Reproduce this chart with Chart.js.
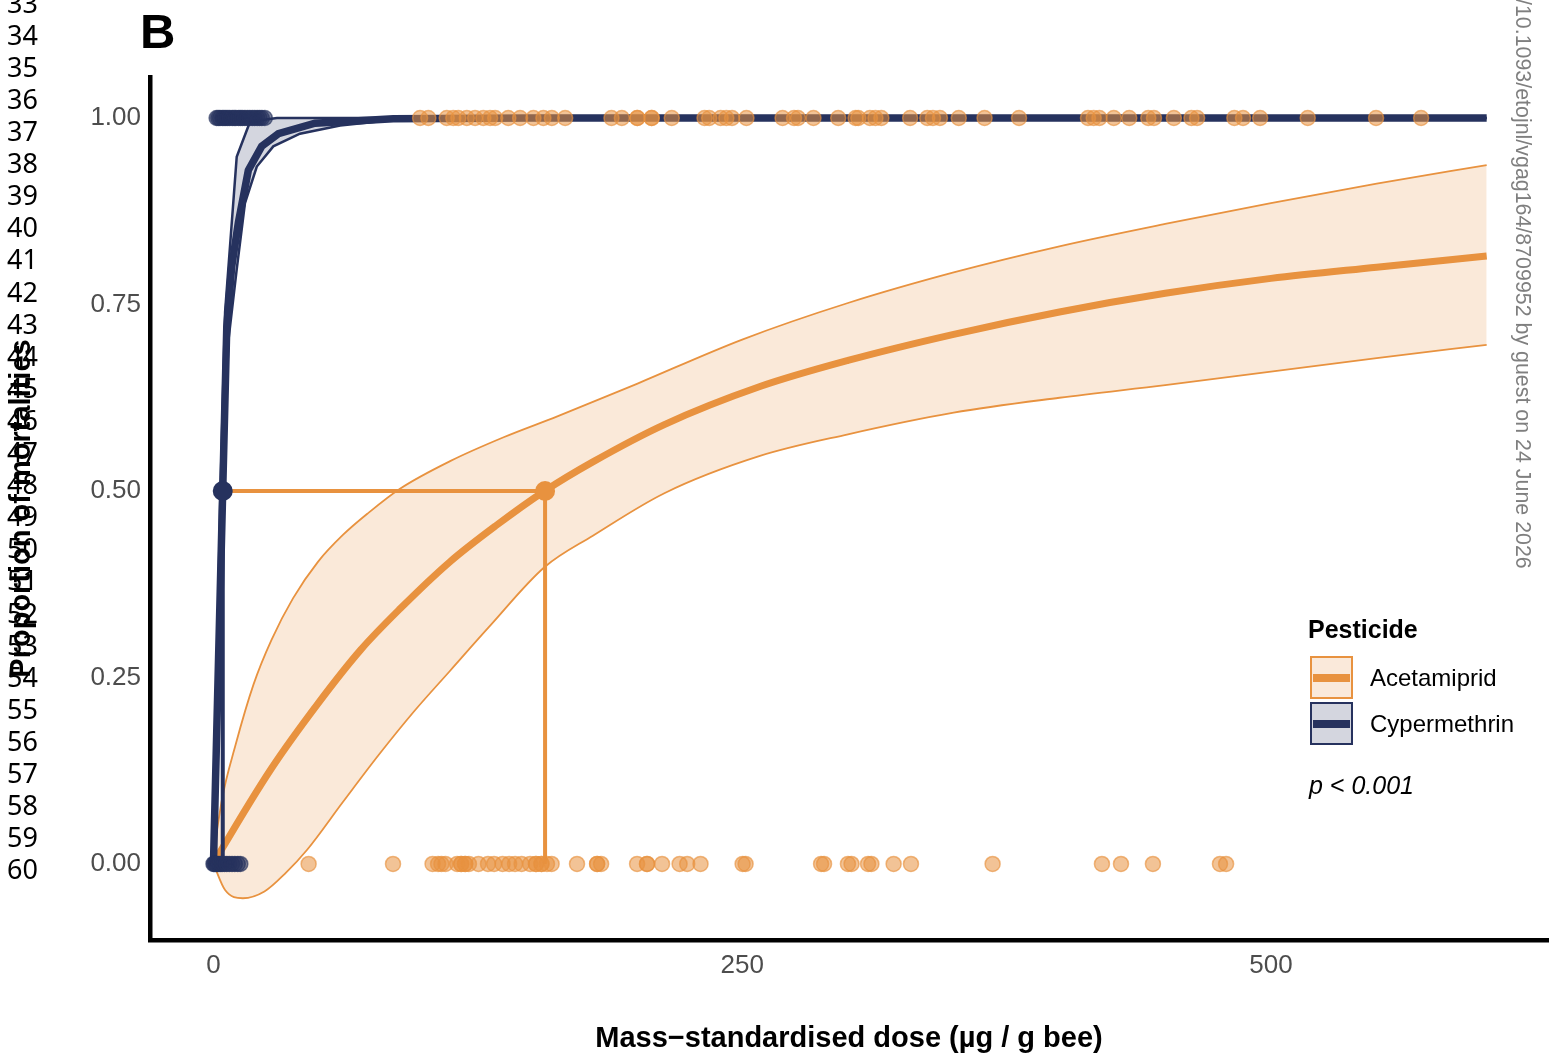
<!DOCTYPE html>
<html>
<head>
<meta charset="utf-8">
<script src="https://cdn.jsdelivr.net/npm/chart.js@4.4.1/dist/chart.umd.min.js"></script>
<style>
html,body{margin:0;padding:0;background:#fff;overflow:hidden}
#wrap{position:relative;width:1551px;height:1056px;background:#fff}
#c{position:absolute;left:0;top:0}
.ov{position:absolute;white-space:nowrap}
.ln{left:7px;font-family:'Noto Sans',sans-serif;font-size:27px;line-height:27px;color:#000}
.lt{font-family:'Liberation Sans',Arial,sans-serif;color:#000}
.key{position:absolute;left:1310px;width:39px;height:39px;border:2.5px solid}
.key i{position:absolute;left:1px;right:1px;top:16px;height:7.5px}
</style>
</head>
<body>
<div id="wrap">
<canvas id="c" width="1551" height="1056"></canvas>
</div>
<script>
// ---------- data ----------
const xTicks = [0, 250, 500];
const xTickLabels = ['0', '250', '500'];
const yTicks = [0, 0.25, 0.5, 0.75, 1];
const yTickLabels = ['0.00', '0.25', '0.50', '0.75', '1.00'];

// Acetamiprid fitted curve and confidence band
const acetFitDose = [0, 4, 27.4, 49.4, 69.6, 88.2, 111.8, 133.8, 156.6, 179.4, 213.2, 258.4, 300, 350, 400, 450, 500, 550, 602];
const acetFitP    = [0, 0.02, 0.128, 0.215, 0.287, 0.342, 0.405, 0.454, 0.500, 0.539, 0.589, 0.640, 0.675, 0.710, 0.740, 0.765, 0.785, 0.800, 0.815];
const acetUpDose  = [0, 0.4, 3.8, 10.5, 19.0, 27.4, 37.6, 49.4, 61.2, 73.0, 88.2, 111.9, 137.2, 162.6, 198.8, 250, 300, 350, 400, 450, 500, 550, 602];
const acetUpP     = [0, 0.015, 0.083, 0.160, 0.241, 0.300, 0.356, 0.405, 0.441, 0.470, 0.503, 0.540, 0.572, 0.600, 0.642, 0.703, 0.752, 0.793, 0.828, 0.858, 0.886, 0.912, 0.937];
const acetLoDose  = [0, 5.5, 13.9, 24.1, 34.2, 44.3, 61.2, 78.1, 95, 111.9, 130.4, 156.6, 179.4, 213.2, 258.4, 300, 350, 400, 450, 500, 550, 602];
const acetLoP     = [0, -0.035, -0.046, -0.037, -0.012, 0.019, 0.083, 0.146, 0.205, 0.259, 0.318, 0.398, 0.440, 0.497, 0.547, 0.576, 0.605, 0.625, 0.642, 0.660, 0.678, 0.696];

// Cypermethrin fitted curve and confidence band
const cypFitDose = [0, 6.3, 8.6, 11.8, 16.5, 22.8, 30.7, 48, 85, 150, 602];
const cypFitP    = [0, 0.72, 0.80, 0.86, 0.93, 0.962, 0.979, 0.993, 0.999, 1, 1];
const cypUpDose  = [0, 3.1, 5.5, 11, 17.3, 30, 602];
const cypUpP     = [0, 0.474, 0.74, 0.948, 0.995, 1.0, 1.0];
const cypLoDose  = [0, 7.0, 11, 14.9, 20.5, 28.3, 40.9, 59.9, 83.5, 150, 602];
const cypLoP     = [0, 0.70, 0.797, 0.886, 0.935, 0.962, 0.979, 0.99, 0.997, 1, 1];

// LD50
const ld50Dose = [4.4, 156.8];
const ld50P = 0.5;

// Observations (dead = 1, alive = 0)
const acetDeadDose = [97.7, 101.6, 110.3, 113.4, 115.8, 119.8, 123.7, 127.6, 130.8, 133.2, 139.4, 145.0, 151.3, 156.0, 160.0, 166.3, 188.2, 193.1, 200.4, 200.4, 207.2, 207.2, 216.7, 232.2, 234.4, 239.8, 242.5, 245.2, 252.0, 269.1, 274.5, 276.4, 283.7, 295.4, 303.6, 304.9, 310.4, 313.0, 315.8, 329.4, 337.5, 340.2, 343.5, 352.4, 364.6, 380.9, 413.5, 416.2, 418.9, 425.7, 433.0, 442.0, 444.7, 454.1, 462.4, 465.1, 482.7, 486.8, 494.9, 517.4, 549.7, 571.0];
const acetAliveDose = [45.0, 84.9, 103.6, 106.2, 107.8, 109.7, 115.2, 117.1, 117.1, 119.0, 119.0, 120.8, 125.3, 129.8, 132.7, 136.7, 139.8, 142.6, 145.7, 149.7, 152.5, 152.5, 155.1, 155.1, 157.7, 159.9, 171.9, 181.4, 181.4, 183.3, 200.3, 205.0, 205.0, 212.1, 220.4, 224.0, 230.3, 250.2, 251.6, 287.3, 288.7, 300.0, 301.7, 309.5, 311.1, 321.6, 329.8, 368.4, 420.1, 429.1, 444.2, 475.9, 478.8];
const cypDeadDose = [1.5, 2.3, 3.1, 4.2, 5.0, 5.9, 6.8, 7.7, 8.9, 9.8, 10.6, 11.9, 12.8, 13.7, 14.9, 16.1, 17.2, 18.4, 19.5, 20.7, 21.8, 22.9, 24.3];
const cypAliveDose = [0, 0.4, 0.9, 1.3, 1.9, 2.6, 3.4, 4.1, 5.2, 6.3, 7.5, 8.8, 10.1, 11.5, 12.7];

const lineNumbers = [33,34,35,36,37,38,39,40,41,42,43,44,45,46,47,48,49,50,51,52,53,54,55,56,57,58,59,60];

// ---------- styling ----------
const ORANGE = '#E8923F';
const NAVY = '#26325E';
const ORANGE_FILL = 'rgba(232,146,63,0.2)';
const NAVY_FILL = 'rgba(38,50,94,0.2)';
const PLOT_RIGHT = 1548;

const zip = (xs, ys) => xs.map((x, i) => ({x, y: ys[i]}));
const row = (xs, y) => xs.map(x => ({x, y}));

Chart.defaults.font.family = "'Liberation Sans', Arial, Helvetica, sans-serif";

const lineDs = (label, data, color, width, extra) => Object.assign({
  label, data, showLine: true, borderColor: color, borderWidth: width,
  pointRadius: 0, pointHoverRadius: 0, fill: false, tension: 0
}, extra || {});

const datasets = [
  lineDs('Acetamiprid upper', zip(acetUpDose, acetUpP), ORANGE, 1.8, {cubicInterpolationMode: 'monotone', order: 30}),
  lineDs('Acetamiprid lower', zip(acetLoDose, acetLoP), ORANGE, 1.8, {cubicInterpolationMode: 'monotone', order: 29,
     fill: {target: 0, above: ORANGE_FILL, below: ORANGE_FILL}}),
  lineDs('Cypermethrin upper', zip(cypUpDose, cypUpP), NAVY, 2.5, {order: 28}),
  lineDs('Cypermethrin lower', zip(cypLoDose, cypLoP), NAVY, 2.5, {order: 27,
     fill: {target: 2, above: NAVY_FILL, below: NAVY_FILL}}),
  lineDs('Acetamiprid', zip(acetFitDose, acetFitP), ORANGE, 7, {cubicInterpolationMode: 'monotone', order: 25}),
  lineDs('Acetamiprid LD50', [{x: ld50Dose[0], y: ld50P}, {x: ld50Dose[1], y: ld50P}, {x: ld50Dose[1], y: 0}], ORANGE, 4, {order: 24}),
  lineDs('Cypermethrin', zip(cypFitDose, cypFitP), NAVY, 7.5, {order: 23}),
  lineDs('Cypermethrin LD50', [{x: ld50Dose[0], y: ld50P}, {x: ld50Dose[0], y: 0}], NAVY, 4, {order: 22}),
  {label: 'Acetamiprid obs', data: row(acetDeadDose, 1).concat(row(acetAliveDose, 0)),
   pointRadius: 7.5, pointBackgroundColor: 'rgba(232,146,63,0.55)', pointBorderColor: 'rgba(232,146,63,0.65)',
   pointBorderWidth: 1.5, showLine: false, order: 20},
  {label: 'Cypermethrin obs', data: row(cypDeadDose, 1).concat(row(cypAliveDose, 0)),
   pointRadius: 7.5, pointBackgroundColor: 'rgba(38,50,94,0.6)', pointBorderColor: 'rgba(38,50,94,0.65)',
   pointBorderWidth: 1.5, showLine: false, order: 19},
  {label: 'LD50', data: ld50Dose.map(x => ({x, y: ld50P})), pointRadius: 10,
   pointBackgroundColor: [NAVY, ORANGE], pointBorderWidth: 0, showLine: false, order: 10}
];

// stretch the plot panel to the same right edge as the original figure
const panelRight = {
  id: 'panelRight',
  afterLayout(chart) {
    const a = chart.chartArea;
    if (a.right === PLOT_RIGHT) return;
    a.right = PLOT_RIGHT;
    a.width = a.right - a.left;
    const x = chart.scales.x;
    x.right = PLOT_RIGHT;
    x.width = x.right - x.left;
    x.configure();
  }
};

new Chart(document.getElementById('c'), {
  type: 'scatter',
  data: {datasets},
  plugins: [panelRight],
  options: {
    responsive: false,
    animation: false,
    events: [],
    layout: {padding: {top: 77, right: 3, left: 0, bottom: 0}},
    plugins: {
      legend: {display: false},
      tooltip: {enabled: false},
      filler: {drawTime: 'beforeDatasetsDraw', propagate: false}
    },
    scales: {
      x: {
        type: 'linear', min: -30, max: 631,
        afterBuildTicks: s => { s.ticks = xTicks.map(v => ({value: v})); },
        afterFit: s => { s.height = 116; },
        grid: {display: false, drawTicks: false},
        border: {display: true, color: '#000', width: 4.5},
        ticks: {color: '#4d4d4d', font: {size: 26}, padding: 10, maxRotation: 0, autoSkip: false,
                callback: (v, i) => xTickLabels[i]},
        title: {display: true, text: 'Mass\u2212standardised dose (\u00b5g / g bee)', color: '#000',
                font: {size: 29, weight: 'bold'}, padding: {top: 0, bottom: 0}}
      },
      y: {
        type: 'linear', min: -0.102, max: 1.055,
        afterBuildTicks: s => { s.ticks = yTicks.map(v => ({value: v})); },
        afterFit: s => { s.width = 150; },
        grid: {display: false, drawTicks: false},
        border: {display: true, color: '#000', width: 4.5},
        ticks: {color: '#4d4d4d', font: {size: 26}, padding: 9, autoSkip: false,
                callback: (v, i) => yTickLabels[i]},
        title: {display: true, text: 'Proportion of mortalities', color: '#000',
                font: {size: 29, weight: 'bold'}, padding: {top: 5, bottom: 0}}
      }
    }
  }
});

// ---------- overlays (page furniture, legend) ----------
const wrap = document.getElementById('wrap');
function add(html, cls, style) {
  const d = document.createElement('div');
  d.className = 'ov ' + (cls || '');
  d.innerHTML = html;
  Object.assign(d.style, style);
  wrap.appendChild(d);
  return d;
}
lineNumbers.forEach((n, i) => {
  add(String(n), 'ln', {top: (3 + 32.1 * i - 14.4) + 'px'});
});
add('B', 'lt', {left: '140px', top: '7px', fontSize: '49px', lineHeight: '49px', fontWeight: 'bold'});
add('/10.1093/etojnl/vgag164/8709952 by guest on 24 June 2026', 'lt',
    {left: '1533px', top: '-1px', fontSize: '21.4px', lineHeight: '21px', color: '#7f7f7f',
     transformOrigin: '0 0', transform: 'rotate(90deg)'});
add('Pesticide', 'lt', {left: '1308px', top: '617px', fontSize: '25px', lineHeight: '25px', fontWeight: 'bold'});
const k1 = add('<i></i>', 'key', {top: '656px', borderColor: ORANGE, background: '#FAE9DA'});
k1.querySelector('i').style.background = ORANGE;
const k2 = add('<i></i>', 'key', {top: '702px', borderColor: NAVY, background: '#D4D6DF'});
k2.querySelector('i').style.background = NAVY;
add('Acetamiprid', 'lt', {left: '1370px', top: '666px', fontSize: '24px', lineHeight: '24px'});
add('Cypermethrin', 'lt', {left: '1370px', top: '712px', fontSize: '24px', lineHeight: '24px'});
add('<i>p</i><i> &lt; 0.001</i>', 'lt', {left: '1309px', top: '773px', fontSize: '25px', lineHeight: '25px'});
</script>
</body>
</html>
